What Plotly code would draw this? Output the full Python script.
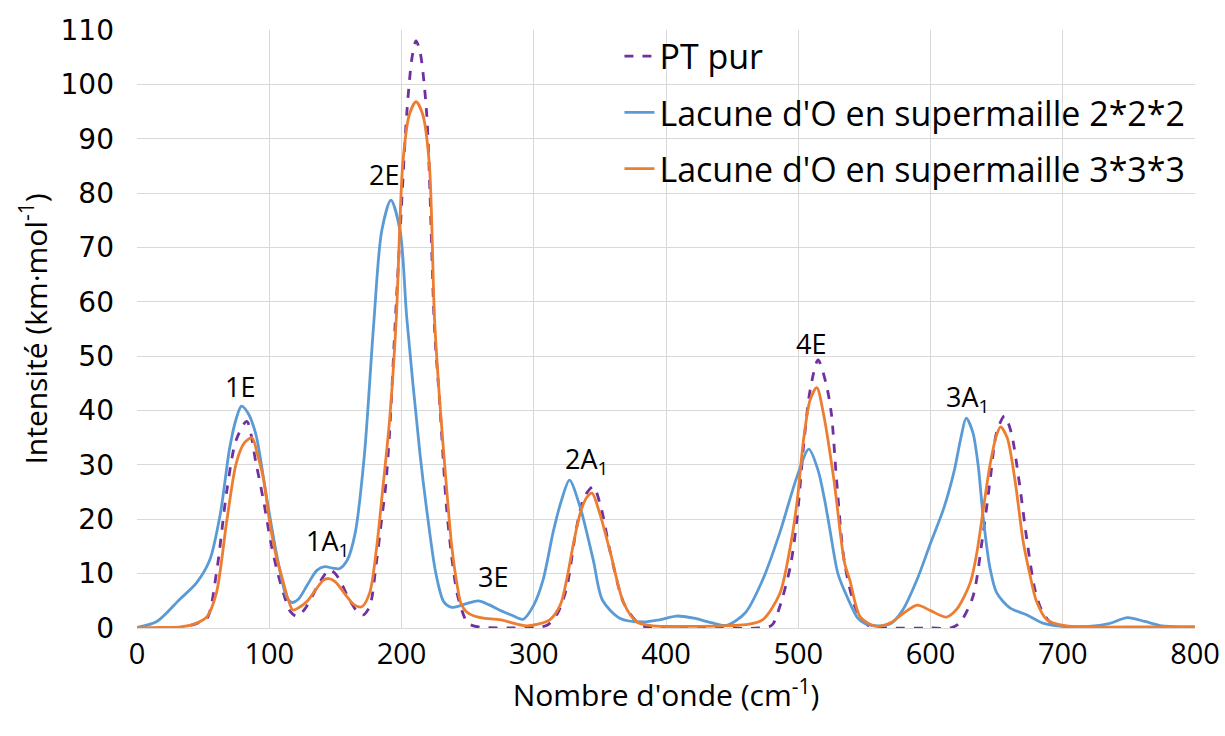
import plotly.graph_objects as go

# PT pur (dashed purple)
pt_x = [0, 20, 33, 45, 53, 60, 68, 75, 83, 90,
        96, 101, 106, 111, 116, 121, 126, 131, 136, 141,
        145, 150, 155, 160, 166, 171, 176, 181, 185, 188,
        191, 195, 199, 204, 208, 211, 214, 219, 225, 229,
        234, 238, 242, 246, 250, 256, 262, 280, 300, 310,
        318, 325, 332, 338, 345, 351, 358, 368, 378, 385,
        400, 440, 470, 480, 486, 494, 499, 504, 509, 515,
        521, 525, 529, 535, 544, 554, 570, 600, 615, 622,
        632, 639, 645, 650, 656, 661, 667, 673, 679, 684,
        690, 697, 720, 760, 800]
pt_y = [0, 0, 0.1, 0.8, 1.8, 10, 25.4, 34.6, 38, 30.3,
        23, 16, 10.5, 6.2, 3, 2.1, 3.2, 5.1, 7.5, 9.5,
        10.7, 10, 8, 5.5, 3.2, 2.4, 4, 12, 20, 26,
        36, 55, 73, 94.7, 105, 108, 106, 94.7, 55, 41,
        22.3, 13, 6.4, 3, 0.9, 0.3, 0.1, 0, 0.1, 0.5,
        2.7, 7.5, 18, 24, 26, 22, 13.8, 4.6, 1.1, 0.2,
        0, 0, 0, 0.5, 3.9, 11.3, 19.9, 33.4, 43.8, 49.3,
        45, 39.5, 27.2, 12, 3.3, 0.3, 0, 0, 0, 0.9,
        5.7, 16, 27, 36, 39, 36, 27, 16, 7, 3.3,
        1.2, 0.5, 0.1, 0.1, 0.1]

# Lacune d'O en supermaille 2*2*2 (blue)
s2_x = [0, 15, 32, 45, 55, 63, 70, 75, 79, 84,
        90, 98, 106, 113, 117, 122, 129, 136, 142, 148,
        153, 159, 165, 172, 179, 185, 192, 199, 204, 214,
        220, 226, 232, 238, 248, 258, 266, 274, 283, 292,
        300, 307, 315, 321, 327, 335, 345, 352, 365, 383,
        395, 408, 421, 434, 446, 460, 473, 486, 499, 508,
        515, 520, 524, 530, 537, 545, 550, 560, 570, 579,
        590, 600, 610, 618, 623, 627, 632, 636, 640, 645,
        650, 660, 673, 685, 700, 720, 735, 749, 762, 775,
        790, 800]
s2_y = [0.1, 1.2, 5.2, 8.3, 12.5, 21, 33, 38.5, 40.8, 39.5,
        35.5, 24, 13, 5.8, 4.7, 5.3, 8, 10.6, 11.3, 11,
        10.9, 12.5, 17.5, 32, 56, 73, 78.7, 73, 57, 32,
        20, 10, 4.8, 3.8, 4.4, 5.0, 4.3, 3.3, 2.4, 1.6,
        4.2, 8.8, 18, 23.5, 27.2, 22.3, 12.5, 5.1, 1.8, 1.1,
        1.5, 2.2, 1.8, 1.0, 0.5, 2.8, 8.8, 17.5, 27.8, 32.9,
        29, 23.5, 18, 10, 5.7, 1.8, 0.9, 0.4, 0.8, 3.3,
        9, 15.6, 22, 29, 35, 38.6, 36, 30, 20, 11,
        6.5, 3.7, 2.4, 0.9, 0.3, 0.3, 0.8, 1.9, 1.2, 0.4,
        0.2, 0.2]

# Lacune d'O en supermaille 3*3*3 (orange)
s3_x = [0, 20, 33, 45, 53, 60, 68, 75, 81, 87,
        91, 96, 100, 105, 110, 114, 118, 124, 129, 135,
        141, 145, 150, 158, 164, 170, 176, 181, 186, 191,
        196, 201, 206, 211, 216, 221, 225, 229, 234, 238,
        242, 245, 249, 255, 262, 275, 295, 312, 320, 325,
        330, 335, 340, 344, 350, 358, 368, 378, 390, 420,
        460, 473, 486, 494, 499, 504, 509, 514, 519, 527,
        535, 539, 547, 559, 570, 580, 590, 600, 612, 620,
        630, 635, 640, 645, 650, 653, 658, 664, 670, 675,
        680, 688, 700, 720, 760, 800]
s3_y = [0, 0.1, 0.2, 0.9, 2.1, 6.4, 19.9, 30.3, 34, 35,
        32, 27, 20, 13.5, 9, 5.5, 3.3, 4, 5, 7,
        8.8, 9.1, 8.5, 6, 4.3, 3.9, 6.5, 14.4, 26, 38.3,
        56.7, 85.5, 94.5, 96.8, 94.5, 85.5, 56.7, 41.4, 26, 15,
        8, 4.5, 3, 2.2, 1.8, 1.5, 0.4, 1.5, 4.2, 9,
        15.5, 21, 24, 24.8, 21, 13.8, 4.6, 1.1, 0.4, 0.3,
        0.6, 1.5, 6.3, 15, 23, 34.6, 42, 44.2, 39.5, 27.2,
        12, 8.8, 2, 0.3, 1, 2.8, 4.2, 3.2, 2.0, 3.5,
        8.3, 13.8, 22, 30, 35.5, 37, 35, 27, 16, 10,
        5, 1.5, 0.5, 0.2, 0.2, 0.2]

# mode labels
mode_labels = ["1E", "1A<sub>1</sub>", "2E", "3E", "2A<sub>1</sub>", "4E", "3A<sub>1</sub>"]
mode_x = [78, 144, 187, 269, 340, 510, 628]
mode_y = [44.5, 15.8, 83.5, 9.4, 30.8, 52.3, 42.3]

FONT = "Open Sans"

fig = go.Figure()

fig.add_trace(go.Scatter(
    x=pt_x, y=pt_y, mode="lines", name="PT pur", legendgroup="a",
    line=dict(color="#7030A0", width=2.8, dash="dash", shape="spline", smoothing=0.8),
))
fig.add_trace(go.Scatter(
    x=s2_x, y=s2_y, mode="lines", name="Lacune d'O en supermaille 2*2*2", legendgroup="b",
    line=dict(color="#5B9BD5", width=2.8, shape="spline", smoothing=0.8),
))
fig.add_trace(go.Scatter(
    x=s3_x, y=s3_y, mode="lines", name="Lacune d'O en supermaille 3*3*3", legendgroup="c",
    line=dict(color="#ED7D31", width=2.8, shape="spline", smoothing=0.8),
))

for txt, ax, ay in zip(mode_labels, mode_x, mode_y):
    fig.add_annotation(x=ax, y=ay, text=txt, showarrow=False,
                       font=dict(family=FONT, size=27, color="black"))

fig.update_layout(
    width=1225,
    height=736,
    margin=dict(l=137, r=30, t=30, b=108),
    plot_bgcolor="white",
    paper_bgcolor="white",
    font=dict(family=FONT, color="black"),
    showlegend=True,
    legend=dict(
        x=0.456, y=1.004, xanchor="left", yanchor="top",
        font=dict(family=FONT, size=34, color="black"),
        bgcolor="rgba(255,255,255,0)",
        tracegroupgap=9,
        traceorder="grouped",
    ),
    xaxis=dict(
        range=[0, 800],
        tickvals=[0, 100, 200, 300, 400, 500, 600, 700, 800],
        showgrid=True, gridcolor="#d9d9d9", gridwidth=1,
        showline=True, linecolor="#d9d9d9", linewidth=1,
        zeroline=False, automargin=False,
        ticks="", ticklabelstandoff=0, ticklabeloverflow="allow",
        tickfont=dict(family=FONT, size=29),
        title=dict(text="Nombre d'onde (cm<sup>-1</sup>)",
                   font=dict(family=FONT, size=30), standoff=0),
    ),
    yaxis=dict(
        range=[0, 110],
        tickvals=list(range(0, 111, 10)),
        showgrid=True, gridcolor="#d9d9d9", gridwidth=1,
        zeroline=False, showline=False, automargin=False,
        ticks="", ticklabelstandoff=22,
        tickfont=dict(family="DejaVu Sans", size=28),
        title=dict(text="Intensité (km·mol<sup>-1</sup>)",
                   font=dict(family=FONT, size=30), standoff=4),
    ),
)

# drop the default page margin so the figure fills the window exactly
fig.write_html("out.html", config={"displayModeBar": False},
               post_script="document.body.style.margin='0';")
